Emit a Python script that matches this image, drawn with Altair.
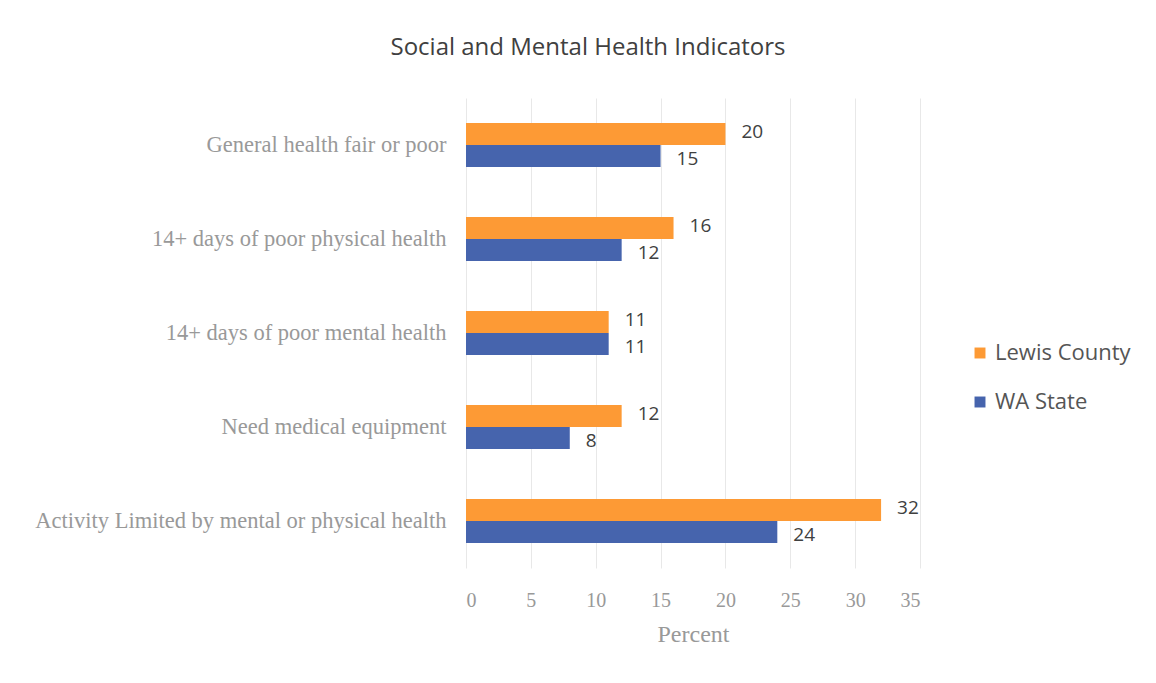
import altair as alt
import pandas as pd

categories = [
    "General health fair or poor",
    "14+ days of poor physical health",
    "14+ days of poor mental health",
    "Need medical equipment",
    "Activity Limited by mental or physical health",
]
lewis_county = [20, 16, 11, 12, 32]
wa_state = [15, 12, 11, 8, 24]
series_names = ["Lewis County", "WA State"]
x_ticks = [0, 5, 10, 15, 20, 25, 30, 35]

rows = []
for c, a, b in zip(categories, lewis_county, wa_state):
    rows.append({"category": c, "series": series_names[0], "value": a})
    rows.append({"category": c, "series": series_names[1], "value": b})
df = pd.DataFrame(rows)

serif = "Liberation Serif"
sans = "Open Sans"

y_enc = alt.Y(
    "category:N",
    sort=categories,
    scale=alt.Scale(paddingInner=0.53, paddingOuter=0.265),
    axis=alt.Axis(
        title=None, ticks=False, domain=False, labelPadding=20,
        labelFont=serif, labelFontSize=22.5, labelColor="#999999",
        labelLimit=500,
    ),
)
yoff = alt.YOffset("series:N", sort=series_names)

bars = alt.Chart(df).mark_bar().encode(
    x=alt.X(
        "value:Q",
        scale=alt.Scale(domain=[0, 35], nice=False),
        axis=alt.Axis(
            values=x_ticks, title="Percent", ticks=False, domain=False,
            labelFont=serif, labelFontSize=20, labelColor="#999999",
            labelPadding=22, titleFont=serif, titleFontSize=24,
            titleFontWeight="normal", titleColor="#999999", titlePadding=12,
            grid=True, gridColor="#e8e8e8",
        ),
    ),
    y=y_enc,
    yOffset=yoff,
    color=alt.Color(
        "series:N",
        sort=series_names,
        scale=alt.Scale(domain=series_names, range=["#FD9A35", "#4664AD"]),
        legend=alt.Legend(
            title=None, orient="none", legendX=503, legendY=244,
            symbolType="square", symbolSize=120, labelFont=sans,
            labelFontSize=22, labelColor="#555555", rowPadding=27,
            symbolStrokeWidth=0,
        ),
    ),
)


def label_layer(series, dy):
    return alt.Chart(df).transform_filter(
        alt.datum.series == series
    ).mark_text(
        align="left", baseline="middle", dx=16, dy=dy, font=sans,
        fontSize=19, color="#404040",
    ).encode(
        x="value:Q",
        y=alt.Y("category:N", sort=categories),
        yOffset=alt.YOffset("series:N", sort=series_names,
                            scale=alt.Scale(domain=series_names)),
        text="value:Q",
    )


labels_a = label_layer(series_names[0], -2)
labels_b = label_layer(series_names[1], 3)

chart = (
    alt.layer(bars, labels_a, labels_b)
    .properties(
        width=454,
        height=470,
        title=alt.TitleParams(
            "Social and Mental Health Indicators", font=sans, fontSize=24,
            fontWeight="normal", color="#404040", anchor="middle",
            frame="group", dx=-105, offset=38,
        ),
        autosize=alt.AutoSizeParams(type="none"),
        padding={"left": 458, "top": 90, "right": 228, "bottom": 107},
        background="white",
    )
    .configure_view(strokeWidth=0)
)

chart.save("out.html", embed_options={"renderer": "svg", "actions": False})
